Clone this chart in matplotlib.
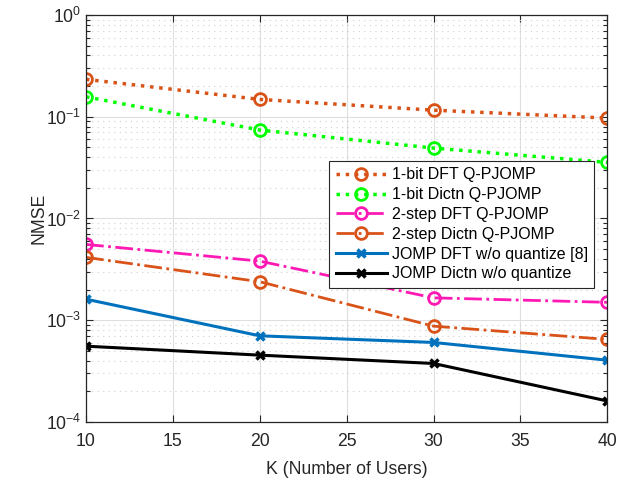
import numpy as np
import matplotlib.pyplot as plt
from matplotlib.ticker import LogLocator, MultipleLocator, NullFormatter

plt.rcParams['font.family'] = ['Liberation Sans', 'DejaVu Sans']
plt.rcParams['mathtext.fontset'] = 'custom'
plt.rcParams['mathtext.rm'] = 'Liberation Sans'
plt.rcParams['mathtext.it'] = 'Liberation Sans'

# NMSE versus number of users
K = [10, 20, 30, 40]
nmse_1bit_dft = [0.233, 0.148, 0.116, 0.097]
nmse_1bit_dict = [0.157, 0.074, 0.0492, 0.0356]
nmse_2step_dft = [0.00556, 0.00381, 0.00166, 0.00150]
nmse_2step_dict = [0.00415, 0.00239, 0.000875, 0.000648]
nmse_jomp_dft = [0.00161, 0.000703, 0.000605, 0.000405]
nmse_jomp_dict = [0.000556, 0.000454, 0.000376, 0.000161]

orange = '#D95319'
green = '#00FF00'
pink = '#FF19B4'
blue = '#0072BD'
axc = '#262626'

fig = plt.figure(figsize=(6.27, 4.83), dpi=100)
ax = fig.add_axes([0.1372, 0.1263, 0.8313, 0.8427])

circ = dict(marker='o', markersize=8.5, markerfacecolor='none', markeredgewidth=2)
cross = dict(marker='x', markersize=6, markeredgewidth=2.5)

ax.plot(K, nmse_1bit_dft, ls=':', lw=2.5, color=orange, label='1-bit DFT Q-PJOMP', **circ)
ax.plot(K, nmse_1bit_dict, ls=':', lw=2.5, color=green, label='1-bit Dictn Q-PJOMP', **circ)
ax.plot(K, nmse_2step_dft, ls='-.', lw=2, color=pink, label='2-step DFT Q-PJOMP', **circ)
ax.plot(K, nmse_2step_dict, ls='-.', lw=2, color=orange, label='2-step Dictn Q-PJOMP', **circ)
ax.plot(K, nmse_jomp_dft, ls='-', lw=2.2, color=blue, label='JOMP DFT w/o quantize [8]', **cross)
ax.plot(K, nmse_jomp_dict, ls='-', lw=2.2, color='black', label='JOMP Dictn w/o quantize', **cross)

ax.set_yscale('log')
ax.set_xlim(10, 40)
ax.set_ylim(1e-4, 1)
ax.xaxis.set_major_locator(MultipleLocator(5))
ax.yaxis.set_major_locator(LogLocator(base=10, numticks=10))
ax.yaxis.set_minor_locator(LogLocator(base=10, subs=np.arange(2, 10), numticks=10))
ax.yaxis.set_minor_formatter(NullFormatter())

ax.grid(which='major', color='#DFDFDF', lw=0.8)
ax.grid(which='minor', axis='y', color='#CFCFCF', ls=(0, (1, 4)), lw=0.8)
ax.set_axisbelow(True)

ax.tick_params(which='both', direction='in', top=True, right=True, colors=axc,
               labelsize=12.7, labelcolor=axc)
ax.tick_params(which='major', length=5, width=0.8)
ax.tick_params(which='minor', length=3, width=0.8)
ax.tick_params(axis='x', pad=8)
for s in ax.spines.values():
    s.set_color(axc)
    s.set_linewidth(0.9)

ax.set_xlabel('K (Number of Users)', fontsize=12.7, color=axc, labelpad=8)
ax.set_ylabel('NMSE', fontsize=12.7, color=axc, labelpad=-1)

leg = ax.legend(loc='upper right', bbox_to_anchor=(0.975, 0.641), borderaxespad=0,
                fontsize=11.5, handlelength=3.2, labelspacing=0.3, borderpad=0.4,
                handletextpad=0.3, fancybox=False, framealpha=1)
leg.get_frame().set_edgecolor(axc)
leg.get_frame().set_linewidth(0.8)

fig.savefig('out.png', dpi=100)
